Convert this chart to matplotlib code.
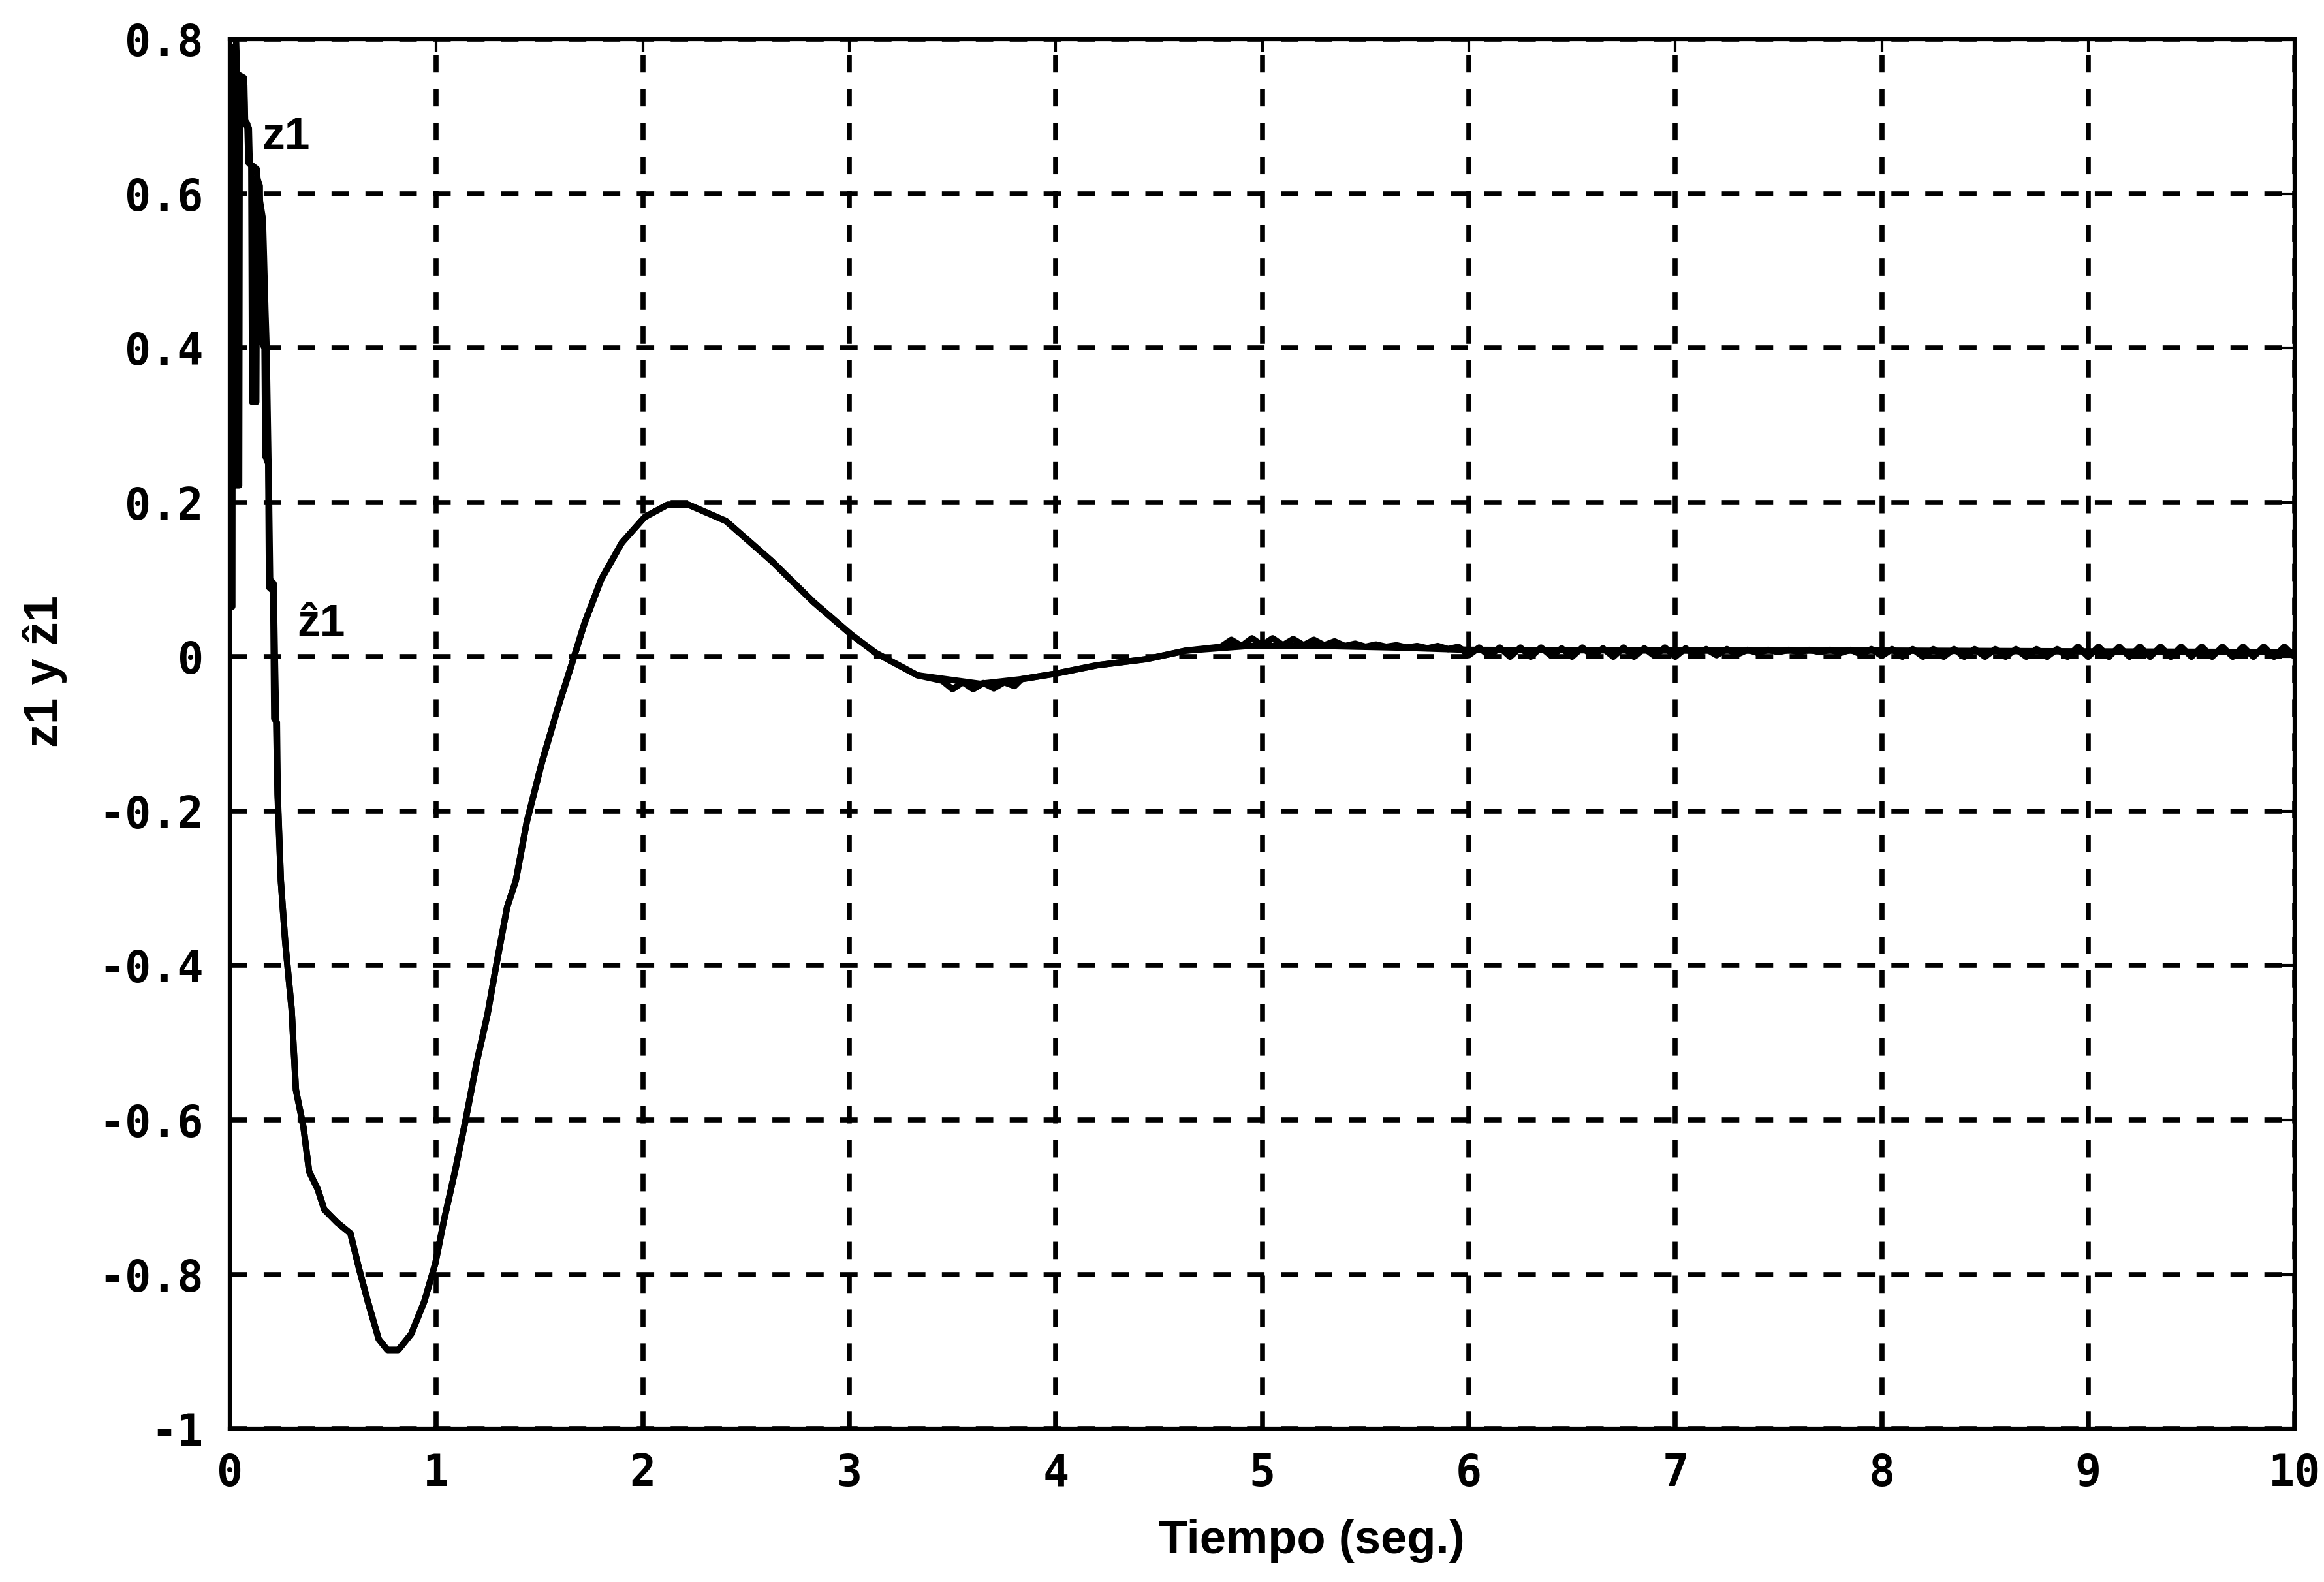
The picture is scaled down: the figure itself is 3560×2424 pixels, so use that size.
import matplotlib
matplotlib.use('Agg')
import matplotlib.pyplot as plt
import numpy as np

# estado real z1 (t en seg.)
t_z1 = [0.000, 0.030, 0.035, 0.068, 0.072, 0.085, 0.090, 0.130, 0.140, 0.160,
        0.165, 0.172, 0.178, 0.184, 0.190, 0.195, 0.212, 0.218, 0.224, 0.231,
        0.247, 0.268, 0.299, 0.320, 0.357, 0.384, 0.426, 0.457, 0.520, 0.584,
        0.626, 0.668, 0.721, 0.763, 0.816, 0.879, 0.942, 0.995, 1.037, 1.090,
        1.142, 1.195, 1.248, 1.290, 1.343, 1.385, 1.438, 1.511, 1.590, 1.667,
        1.717, 1.798, 1.899, 2.009, 2.120, 2.221, 2.402, 2.624, 2.826, 3.008,
        3.128, 3.330, 3.633, 3.834, 3.996, 4.200, 4.440, 4.630, 4.930, 5.300,
        5.650, 6.000, 7.000, 8.000, 9.000, 10.00]
z1 = [0.800, 0.800, 0.755, 0.750, 0.695, 0.690, 0.640, 0.632, 0.600, 0.567,
      0.520, 0.450, 0.400, 0.300, 0.200, 0.100, 0.095, 0.000, -0.080, -0.178,
      -0.290, -0.369, -0.456, -0.561, -0.610, -0.667, -0.690, -0.716, -0.733, -0.747,
      -0.793, -0.835, -0.884, -0.898, -0.898, -0.877, -0.835, -0.786, -0.730, -0.667,
      -0.600, -0.526, -0.463, -0.400, -0.324, -0.290, -0.214, -0.137, -0.065, 0.000,
      0.043, 0.100, 0.148, 0.181, 0.197, 0.197, 0.176, 0.124, 0.071, 0.029,
      0.005, -0.024, -0.035, -0.029, -0.022, -0.011, -0.003, 0.008, 0.014, 0.014,
      0.012, 0.009, 0.008, 0.008, 0.007, 0.006]

# estimado z1 gorro: arranque
t_zh_ini = [0.000, 0.012, 0.014, 0.030, 0.033, 0.045, 0.048, 0.070, 0.074, 0.092,
            0.096, 0.104, 0.108, 0.128, 0.132, 0.145, 0.150, 0.168, 0.172, 0.186,
            0.190, 0.210, 0.215, 0.228, 0.232]
zh_ini = [0.065, 0.065, 0.790, 0.785, 0.222, 0.222, 0.745, 0.740, 0.690, 0.685,
          0.640, 0.635, 0.330, 0.330, 0.620, 0.610, 0.410, 0.400, 0.260, 0.250,
          0.090, 0.085, -0.080, -0.085, -0.178]

# estimado: rizado en el minimo
t_zh_min = [3.45, 3.50, 3.55, 3.60, 3.65, 3.70, 3.75, 3.80]
zh_min = [-0.031, -0.042, -0.033, -0.042, -0.034, -0.041, -0.033, -0.038]

# estimado: rizado en regimen permanente (muestras cada 0.05 s desde 4.8 s)
zh_fin = [0.013, 0.022, 0.014, 0.024, 0.015, 0.024, 0.015, 0.023, 0.015, 0.022,
          0.015, 0.020, 0.014, 0.017, 0.013, 0.016, 0.013, 0.015, 0.012, 0.014,
          0.011, 0.014, 0.010, 0.013, 0.002, 0.012, 0.001, 0.012, 0.000, 0.012,
          0.000, 0.012, 0.001, 0.011, 0.000, 0.012, 0.001, 0.011, 0.000, 0.012,
          0.000, 0.011, 0.001, 0.012, 0.000, 0.011, 0.001, 0.010, 0.002, 0.010,
          0.003, 0.009, 0.005, 0.009, 0.006, 0.009, 0.006, 0.009, 0.006, 0.009,
          0.005, 0.009, 0.003, 0.010, 0.001, 0.010, 0.000, 0.010, 0.000, 0.010,
          0.000, 0.010, 0.000, 0.010, 0.000, 0.010, 0.000, 0.010, 0.000, 0.010,
          0.000, 0.010, 0.000, 0.013, 0.000, 0.013, 0.000, 0.013, 0.000, 0.013,
          0.000, 0.013, 0.000, 0.013, 0.000, 0.013, 0.000, 0.013, 0.000, 0.013,
          0.000, 0.013, 0.000, 0.013, 0.000]
t_zh_fin = np.linspace(4.8, 10.0, len(zh_fin))

x_ticks = [0, 1, 2, 3, 4, 5, 6, 7, 8, 9, 10]
y_ticks = [-1, -0.8, -0.6, -0.4, -0.2, 0, 0.2, 0.4, 0.6, 0.8]
y_labels = ['-1', '-0.8', '-0.6', '-0.4', '-0.2', '0', '0.2', '0.4', '0.6', '0.8']

# el estimado sigue al real fuera de los tramos leidos aparte
tz = np.array(t_z1)
zz = np.array(z1)
m1 = (tz > 0.24) & (tz < 3.40)
m2 = (tz > 3.83) & (tz < 4.80)
t_zh = np.concatenate([t_zh_ini, tz[m1], t_zh_min, tz[m2], t_zh_fin])
zh = np.concatenate([zh_ini, zz[m1], zh_min, zz[m2], zh_fin])

fig = plt.figure(figsize=(35.6, 24.24), dpi=100)
ax = fig.add_axes([0.0989, 0.0969, 0.8885, 0.8783])

ax.plot(t_z1, z1, color='k', lw=7)
ax.plot(t_zh, zh, color='k', lw=7)

ax.set_xlim(0, 10)
ax.set_ylim(-1, 0.8)
ax.set_xticks(x_ticks)
ax.set_yticks(y_ticks)
ax.set_xticklabels([str(v) for v in x_ticks])
ax.set_yticklabels(y_labels)

ax.grid(True, color='k', linestyle=(0, (3.5, 3.3)), linewidth=5.5)
ax.tick_params(direction='in', length=14, width=3, top=True, right=True)
ax.tick_params(axis='x', pad=26)
ax.tick_params(axis='y', pad=29)
for lab in ax.get_xticklabels() + ax.get_yticklabels():
    lab.set_family('DejaVu Sans Mono')
    lab.set_weight('bold')
    lab.set_fontsize(48)
for s in ax.spines.values():
    s.set_linewidth(4.5)

fam = ['Liberation Sans', 'DejaVu Sans']
ax.set_xlabel('Tiempo (seg.)', family=fam, weight='bold', fontsize=52)
ax.xaxis.set_label_coords(0.524, -0.0808)
ax.xaxis.label.set_va('center')
ax.set_ylabel('z1 y \u1e911', family=fam, weight='bold', fontsize=52)
ax.yaxis.set_label_coords(-0.0898, 0.545)
ax.yaxis.label.set_va('center')

ax.text(0.273, 0.658, 'z1', family=fam, weight='bold', fontsize=50,
        ha='center', va='baseline')
ax.text(0.443, 0.027, '\u1e911', family=fam, weight='bold', fontsize=50,
        ha='center', va='baseline')

fig.savefig('out.png', dpi=100, facecolor='white')
